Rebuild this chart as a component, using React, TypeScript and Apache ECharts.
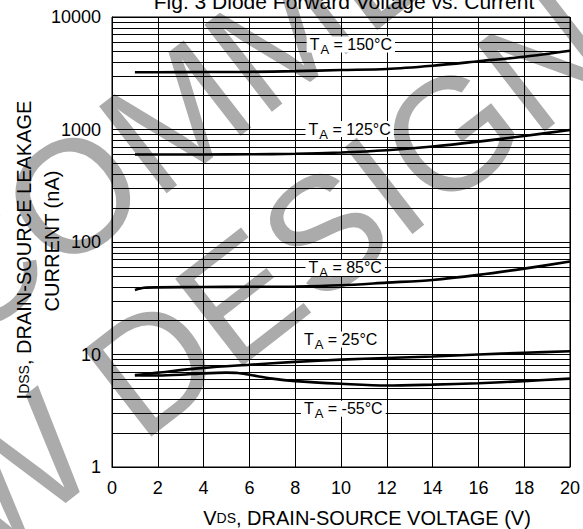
import React, { useEffect, useRef } from 'react';
import * as echarts from 'echarts';

const vds150 = [1, 2, 4, 6, 8, 10, 12, 14, 16, 18, 20];
const ids150 = [3230, 3230, 3240, 3250, 3300, 3380, 3450, 3690, 4040, 4440, 5020];
const vds125 = [1, 2, 4, 6, 8, 10, 12, 14, 16, 18, 20];
const ids125 = [600, 600, 600, 602, 608, 625, 655, 705, 780, 876, 990];
const vds85 = [1, 1.4, 2, 4, 6, 8, 10, 12, 14, 16, 18, 20];
const ids85 = [37.5, 39.2, 39.5, 39.8, 40, 40.2, 41.2, 43.5, 46, 51, 58, 67];
const vds25 = [1, 2, 4, 6, 8, 10, 12, 14, 16, 18, 20];
const ids25 = [6.55, 6.9, 7.6, 8.1, 8.6, 9.0, 9.3, 9.6, 10.0, 10.35, 10.7];
const vdsM55 = [1, 2, 3, 4, 5, 5.5, 6, 7, 8, 10, 12, 14, 16, 18, 20];
const idsM55 = [6.55, 6.5, 6.6, 6.8, 6.9, 6.85, 6.6, 6.1, 5.8, 5.5, 5.3, 5.4, 5.55, 5.8, 6.1];

const curveTemps = ['150°C', '125°C', '85°C', '25°C', '-55°C'];
const labelVds = [8.5, 8.45, 8.45, 8.25, 8.25];
const labelIds = [5696, 1010, 58.8, 13.6, 3.3];

const minorGrid = [
  2, 3, 4, 5, 6, 7, 8, 9,
  20, 30, 40, 50, 60, 70, 80, 90,
  200, 300, 400, 500, 600, 700, 800, 900,
  2000, 3000, 4000, 5000, 6000, 7000, 8000, 9000,
];

const FONT = '"Liberation Sans", Arial, sans-serif';

function pairs(xs: number[], ys: number[]) {
  return xs.map((x, i) => [x, ys[i]]);
}

export default function App() {
  const ref = useRef<HTMLDivElement>(null);
  useEffect(() => {
    if (!ref.current) return;
    const chart = echarts.init(ref.current, undefined, { renderer: 'svg' });
    const sets = [
      pairs(vds150, ids150),
      pairs(vds125, ids125),
      pairs(vds85, ids85),
      pairs(vds25, ids25),
      pairs(vdsM55, idsM55),
    ];
    const series: any[] = sets.map((d, i) => ({
      type: 'line',
      data: d,
      smooth: 0.3,
      showSymbol: false,
      symbol: 'none',
      lineStyle: { color: '#000', width: 2.6 },
      z: 3,
      markPoint: {
        silent: true,
        symbol: 'rect',
        symbolSize: 0,
        z: 5,
        data: [
          {
            coord: [labelVds[i], labelIds[i]],
            label: {
              show: true,
              position: 'right',
              distance: 0,
              backgroundColor: '#fff',
              padding: [0, 3, 0, 3],
              formatter: '{t|T}{s|A}{t| = ' + curveTemps[i] + '}',
              rich: {
                t: { fontSize: 16, fontFamily: FONT, color: '#000', lineHeight: 16 },
                s: { fontSize: 13, fontFamily: FONT, color: '#000', lineHeight: 12, padding: [10, 0, 0, 1] },
              },
            },
          },
        ],
      },
    }));
    series[0].markLine = {
      silent: true,
      symbol: ['none', 'none'],
      label: { show: false },
      lineStyle: { color: '#000', width: 1, type: 'solid' },
      z: 1,
      data: minorGrid.map((v) => ({ yAxis: v })),
    };

    chart.setOption({
      animation: false,
      backgroundColor: '#fff',
      grid: { left: 112, right: 12, top: 17, bottom: 62, show: true, borderColor: '#000', borderWidth: 1 },
      xAxis: {
        type: 'value',
        min: 0,
        max: 20,
        interval: 2,
        axisLine: { show: true, lineStyle: { color: '#000', width: 1 } },
        axisTick: { show: false },
        axisLabel: { color: '#000', fontSize: 18, fontFamily: FONT, margin: 12 },
        splitLine: { show: true, lineStyle: { color: '#000', width: 1 } },
      },
      yAxis: {
        type: 'log',
        logBase: 10,
        min: 1,
        max: 10000,
        axisLine: { show: true, lineStyle: { color: '#000', width: 1 } },
        axisTick: { show: false },
        axisLabel: {
          color: '#000',
          fontSize: 18,
          fontFamily: FONT,
          margin: 11,
          formatter: (v: number) => String(Math.round(v)),
        },
        splitLine: { show: true, lineStyle: { color: '#000', width: 1 } },
      },
      graphic: [
        {
          type: 'text',
          z: -10,
          silent: true,
          x: -194,
          y: 504,
          rotation: 0.66,
          style: { text: 'RECOMMENDED', font: '160px ' + FONT, fill: '#ababab', verticalAlign: 'bottom' },
        },
        {
          type: 'text',
          z: -10,
          silent: true,
          x: -174,
          y: 720,
          rotation: 0.66,
          style: { text: 'NEW DESIGN', font: '160px ' + FONT, fill: '#ababab', verticalAlign: 'bottom' },
        },
        {
          type: 'text',
          z: 10,
          x: 344,
          y: 1,
          style: {
            text: 'Fig. 3 Diode Forward Voltage vs. Current',
            font: '21px ' + FONT,
            fill: '#000',
            align: 'center',
            verticalAlign: 'middle',
          },
        },
        {
          type: 'text',
          z: 10,
          x: 367,
          y: 518,
          style: {
            text: '{b|V}{s|DS}{b|, DRAIN-SOURCE VOLTAGE (V)}',
            align: 'center',
            verticalAlign: 'middle',
            rich: {
              b: { fontSize: 20, fontFamily: FONT, color: '#000', lineHeight: 22 },
              s: { fontSize: 14, fontFamily: FONT, color: '#000', lineHeight: 22 },
            },
          },
        },
        {
          type: 'text',
          z: 10,
          x: 24,
          y: 250,
          rotation: Math.PI / 2,
          style: {
            text: '{b|I}{s|DSS}{b|, DRAIN-SOURCE LEAKAGE}',
            align: 'center',
            verticalAlign: 'middle',
            rich: {
              b: { fontSize: 20, fontFamily: FONT, color: '#000', lineHeight: 22 },
              s: { fontSize: 14, fontFamily: FONT, color: '#000', lineHeight: 22 },
            },
          },
        },
        {
          type: 'text',
          z: 10,
          x: 52,
          y: 241,
          rotation: Math.PI / 2,
          style: {
            text: 'CURRENT (nA)',
            align: 'center',
            verticalAlign: 'middle',
            font: '20px ' + FONT,
            fill: '#000',
          },
        },
      ],
      series,
    });
    return () => chart.dispose();
  }, []);
  return <div ref={ref} style={{ width: 583, height: 529, position: 'absolute', left: 0, top: 0 }} />;
}
